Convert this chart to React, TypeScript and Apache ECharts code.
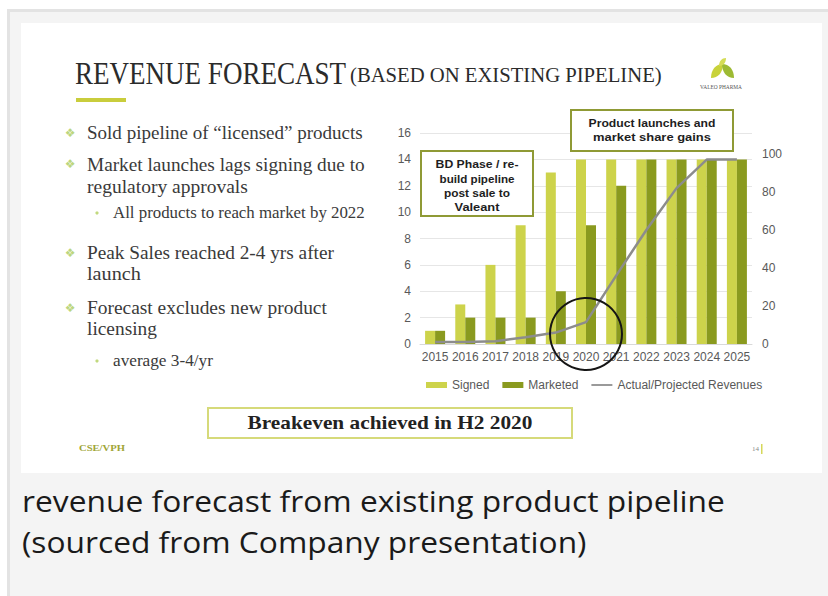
import React, { useEffect, useRef } from "react";
import * as echarts from "echarts";

const years = ["2015", "2016", "2017", "2018", "2019", "2020", "2021", "2022", "2023", "2024", "2025"];
const signed = [1, 3, 6, 9, 13, 14, 14, 14, 14, 14, 14];
const marketed = [1, 2, 2, 2, 4, 9, 12, 14, 14, 14, 14];
const revenue = [1, 1, 1.5, 3.5, 6, 11.5, 36, 60, 82, 97, 97];

const seriesNames = ["Signed", "Marketed", "Actual/Projected Revenues"];
const titleMain = "REVENUE FORECAST";
const titleSub = "(BASED ON EXISTING PIPELINE)";
const bulletLines = [
  "Sold pipeline of \u201clicensed\u201d products",
  "Market launches lags signing due to",
  "regulatory approvals",
  "All products to reach market by 2022",
  "Peak Sales reached 2-4 yrs after",
  "launch",
  "Forecast excludes new product",
  "licensing",
  "average 3-4/yr",
];
const bdLines = ["BD Phase / re-", "build pipeline", "post sale to", "Valeant"];
const launchLines = ["Product launches and", "market share gains"];
const breakevenText = "Breakeven achieved in H2 2020";
const captionLines = [
  "revenue forecast from existing product pipeline",
  "(sourced from Company presentation)",
];

const SERIF = '"Liberation Serif", "DejaVu Serif", serif';
const SANS = '"Liberation Sans", Arial, sans-serif';

export default function App() {
  const ref = useRef<HTMLDivElement>(null);

  useEffect(() => {
    if (!ref.current) return;
    const chart = echarts.init(ref.current, undefined, { renderer: "svg" });
    const ctx = document.createElement("canvas").getContext("2d") as CanvasRenderingContext2D;
    const fit = (text: string, font: string, target?: number) => {
      if (!target) return 1;
      ctx.font = font;
      const w = ctx.measureText(text).width;
      return w > 0 ? target / w : 1;
    };
    const txt = (
      text: string,
      x: number,
      y: number,
      font: string,
      fill: string,
      target?: number,
      align: string = "left"
    ) => ({
      type: "text",
      x,
      y,
      scaleX: fit(text, font, target),
      z: 60,
      style: { text, font, fill, align, verticalAlign: "middle" },
    });

    const leaf = "M0,20 C0,8 8,0 20,0 C20,12 12,20 0,20 Z";
    echarts.graphic.registerShape("leafShape", echarts.graphic.extendPath(leaf, {}) as any);

    const bodyFont = `19px ${SERIF}`;
    const subFont = `16px ${SERIF}`;
    const bulletX = 87;
    const bulletSpecs: [number, number, number, boolean][] = [
      // [lineIndex, y, targetWidth, isSub]
      [0, 133, 276, false],
      [1, 165, 278, false],
      [2, 187, 161, false],
      [3, 213, 252, true],
      [4, 253, 247, false],
      [5, 274, 54, false],
      [6, 308, 240, false],
      [7, 329, 70, false],
      [8, 361, 100, true],
    ];
    const bulletGraphics: any[] = [];
    bulletSpecs.forEach(([i, y, w, sub]) => {
      const x = sub ? 113 : bulletX;
      bulletGraphics.push(txt(bulletLines[i], x, y, sub ? subFont : bodyFont, "#3a3a3a", w));
    });
    [133, 164, 253, 308].forEach((y) =>
      bulletGraphics.push({
        type: "text",
        x: 70,
        y,
        z: 60,
        style: { text: "\u2756", font: `12px "DejaVu Sans"`, fill: "#bcd67e", align: "center", verticalAlign: "middle" },
      })
    );
    [213, 361].forEach((y) =>
      bulletGraphics.push({ type: "circle", z: 60, shape: { cx: 97, cy: y, r: 1.6 }, style: { fill: "#c2d97e" } })
    );

    const bdFont = `bold 11px ${SANS}`;
    const bdY = [164, 179, 193, 207];
    const bdW = [83, 75, 66, 45];
    const launchY = [123, 137];
    const launchW = [127, 118];

    const option: any = {
      animation: false,
      backgroundColor: "#ffffff",
      grid: { left: 420, top: 133, width: 332, height: 211, containLabel: false },
      legend: {
        left: 421,
        top: 374,
        itemWidth: 21,
        itemHeight: 6,
        itemGap: 13,
        textStyle: { color: "#595959", fontSize: 12, fontFamily: SANS },
        data: [
          { name: seriesNames[0], icon: "rect" },
          { name: seriesNames[1], icon: "rect" },
          { name: seriesNames[2], icon: "path://M0,0H24V2H0Z" },
        ],
      },
      xAxis: {
        type: "category",
        data: years,
        axisTick: { show: false },
        axisLine: { lineStyle: { color: "#d9d9d9" } },
        axisLabel: { color: "#595959", fontSize: 12, fontFamily: SANS, margin: 7, interval: 0 },
      },
      yAxis: [
        {
          type: "value",
          min: 0,
          max: 16,
          interval: 2,
          axisLine: { show: false },
          axisTick: { show: false },
          axisLabel: { color: "#595959", fontSize: 12, fontFamily: SANS, margin: 9 },
          splitLine: { lineStyle: { color: "#e6e6e6" } },
        },
        {
          type: "value",
          min: 0,
          max: 111,
          interval: 20,
          position: "right",
          axisLine: { show: false },
          axisTick: { show: false },
          splitLine: { show: false },
          axisLabel: {
            color: "#595959",
            fontSize: 12,
            fontFamily: SANS,
            margin: 10,
            formatter: (v: number) => (v > 100 ? "" : String(v)),
          },
        },
      ],
      series: [
        {
          name: seriesNames[0],
          type: "bar",
          data: signed,
          barWidth: 10,
          barGap: "0%",
          itemStyle: { color: "#cdd34b" },
        },
        {
          name: seriesNames[1],
          type: "bar",
          data: marketed,
          barWidth: 10,
          barGap: "0%",
          itemStyle: { color: "#8a9a1f" },
        },
        {
          name: seriesNames[2],
          type: "line",
          yAxisIndex: 1,
          data: revenue,
          symbol: "none",
          lineStyle: { color: "#8c8c8c", width: 2.5 },
          itemStyle: { color: "#8c8c8c" },
          z: 5,
        },
      ],
      graphic: [
        // page background and frame
        { type: "rect", z: -20, shape: { x: 7, y: 9, width: 830, height: 600 }, style: { fill: "#f4f4f4" } },
        { type: "rect", z: -19, shape: { x: 7, y: 9, width: 830, height: 3 }, style: { fill: "#e3e3e3" } },
        { type: "rect", z: -19, shape: { x: 7, y: 9, width: 3, height: 600 }, style: { fill: "#e3e3e3" } },
        { type: "rect", z: -18, shape: { x: 21, y: 23, width: 801, height: 450 }, style: { fill: "#ffffff" } },
        // title
        txt(titleMain, 75, 73, `31px ${SERIF}`, "#2b2b2b", 271),
        txt(titleSub, 350, 75, `20px ${SERIF}`, "#2b2b2b", 312),
        { type: "rect", z: 60, shape: { x: 76, y: 98, width: 50, height: 4 }, style: { fill: "#c9cd3c" } },
        // logo
        { type: "leafShape", x: 711, y: 64, scaleX: 0.6, scaleY: 0.7, z: 60, style: { fill: "#c8d23a" } },
        { type: "leafShape", x: 734, y: 64, scaleX: -0.6, scaleY: 0.7, z: 60, style: { fill: "#9dba33" } },
        { type: "leafShape", x: 719, y: 58, scaleX: 0.35, scaleY: 0.4, z: 60, style: { fill: "#d4dc55" } },
        txt("VALEO PHARMA", 721, 87, `6px ${SERIF}`, "#555555", 42, "center"),
        // bullets
        ...bulletGraphics,
        // annotation boxes
        {
          type: "rect",
          z: 70,
          shape: { x: 421, y: 151, width: 112, height: 65 },
          style: { fill: "#ffffff", stroke: "#8f9a35", lineWidth: 2 },
        },
        ...bdLines.map((t, i) => ({ ...txt(t, 477, bdY[i], bdFont, "#1e1e1e", bdW[i], "center"), z: 71 })),
        {
          type: "rect",
          z: 70,
          shape: { x: 571, y: 110, width: 162, height: 41 },
          style: { fill: "#ffffff", stroke: "#8f9a35", lineWidth: 2 },
        },
        ...launchLines.map((t, i) => ({ ...txt(t, 652, launchY[i], bdFont, "#1e1e1e", launchW[i], "center"), z: 71 })),
        // circle
        {
          type: "circle",
          z: 80,
          shape: { cx: 586, cy: 334, r: 36 },
          style: { fill: "none", stroke: "#151515", lineWidth: 2 },
        },
        // breakeven box
        {
          type: "rect",
          z: 60,
          shape: { x: 208, y: 408, width: 364, height: 30 },
          style: { fill: "#ffffff", stroke: "#d6da7a", lineWidth: 2 },
        },
        txt(breakevenText, 390, 423, `bold 18px ${SERIF}`, "#222222", 285, "center"),
        // footer
        txt("CSE/VPH", 79, 448, `bold 9px ${SERIF}`, "#a0a536", 46),
        txt("14", 752, 449, `7px ${SERIF}`, "#888888"),
        { type: "rect", z: 60, shape: { x: 761, y: 444, width: 1.5, height: 10 }, style: { fill: "#d6d85a" } },
        // caption
        txt(captionLines[0], 22, 501, `29px "Open Sans"`, "#1a1a1a", 703),
        txt(captionLines[1], 22, 542, `29px "Open Sans"`, "#1a1a1a", 565),
      ],
    };
    chart.setOption(option);
    return () => chart.dispose();
  }, []);

  return <div ref={ref} style={{ position: "absolute", left: 0, top: 0, width: 828, height: 596 }} />;
}
